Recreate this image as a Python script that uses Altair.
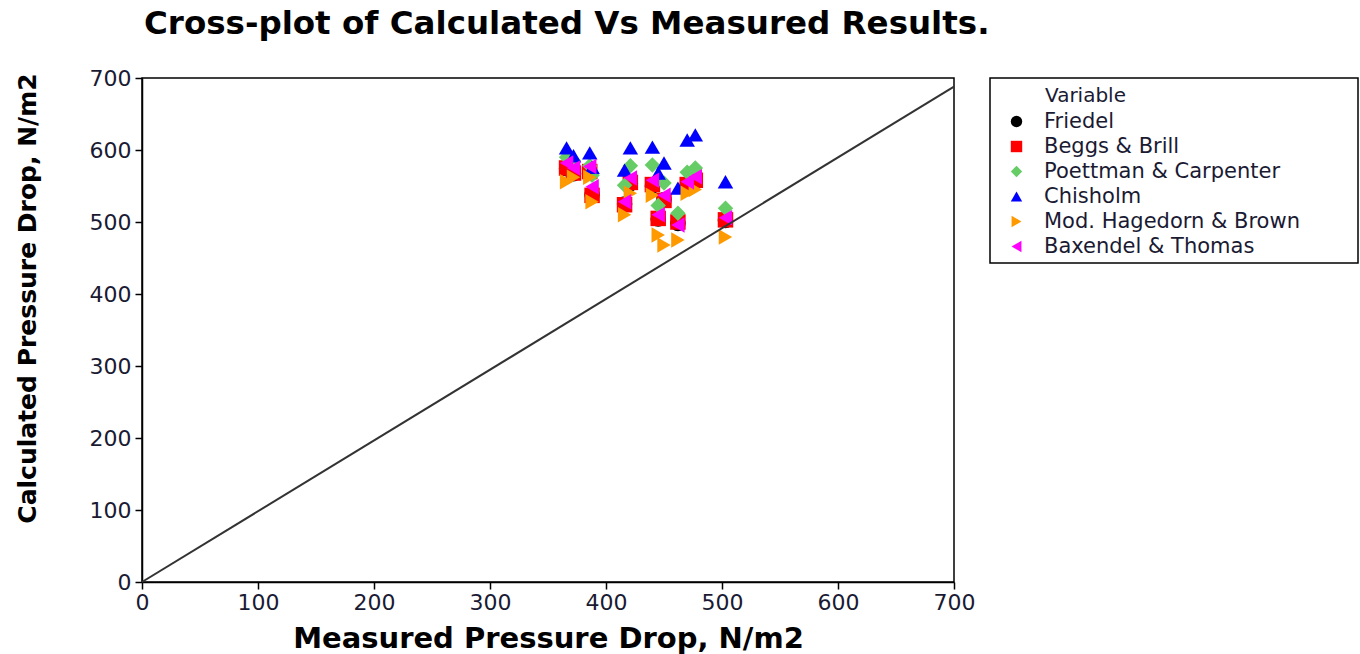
import altair as alt
import pandas as pd

# Measured pressure drop (N/m2) for each test point
measured = [366, 372, 386, 388, 416, 421, 440, 445, 450, 462, 470, 477, 503]

# Calculated pressure drop (N/m2) per correlation
friedel   = [574, 567, 568, 538, 525, 553, 550, 504, 531, 498, 550, 556, 502]
beggs     = [575, 568, 570, 537, 524, 555, 552, 505, 530, 500, 552, 558, 503]
poettman  = [590, 585, 578, 565, 551, 578, 579, 523, 554, 512, 569, 575, 519]
chisholm  = [603, 592, 596, 576, 572, 603, 604, 568, 582, 547, 614, 621, 556]
hagedorn  = [556, 562, 562, 528, 510, 540, 537, 482, 468, 475, 540, 545, 479]
baxendel  = [582, 575, 577, 549, 528, 561, 558, 510, 537, 496, 556, 563, 506]

series_names = ["Friedel", "Beggs & Brill", "Poettman & Carpenter", "Chisholm",
                "Mod. Hagedorn & Brown", "Baxendel & Thomas"]
series_values = [friedel, beggs, poettman, chisholm, hagedorn, baxendel]
series_colors = ["#000000", "#FF0000", "#66CC66", "#0000FF", "#FF9900", "#FF00FF"]
series_shapes = ["circle", "square", "diamond", "triangle-up", "triangle-right", "triangle-left"]

# y = x reference line
line_x = [0, 700]
line_y = [0, 688]

axis_ticks = [0, 100, 200, 300, 400, 500, 600, 700]

rows = []
for order, (name, vals) in enumerate(zip(series_names, series_values)):
    for m, c in zip(measured, vals):
        rows.append({"Measured": m, "Calculated": c, "Variable": name, "order": order})
df = pd.DataFrame(rows)
line_df = pd.DataFrame({"Measured": line_x, "Calculated": line_y})

FONT = "DejaVu Sans"
TXT = "#1a1a33"

xscale = alt.Scale(domain=[0, 700], nice=False, zero=True)
yscale = alt.Scale(domain=[0, 700], nice=False, zero=True)

xaxis = alt.Axis(values=axis_ticks, title="Measured Pressure Drop, N/m2", grid=False,
                 tickSize=7, tickColor="black", domainColor="black", tickWidth=1.5, domainWidth=1.5,
                 labelFont=FONT, labelFontSize=22, labelColor=TXT, labelPadding=3, labelFlush=False,
                 titleFont=FONT, titleFontSize=29, titleFontWeight="bold", titleColor="black",
                 titleY=56, titleBaseline="middle")
yaxis = alt.Axis(values=axis_ticks, title="Calculated Pressure Drop, N/m2", grid=False,
                 tickSize=7, tickColor="black", domainColor="black", tickWidth=1.5, domainWidth=1.5,
                 labelFont=FONT, labelFontSize=22, labelColor=TXT, labelPadding=4, labelFlush=False,
                 titleFont=FONT, titleFontSize=25, titleFontWeight="bold", titleColor="black",
                 titleX=-115, titleY=220, titleAlign="center", titleBaseline="middle", titleAngle=270)

# legend frame and heading (decoration placed in pixels)
legend_box = alt.Chart(pd.DataFrame({"k": [0]})).mark_rect(
    fill="white", stroke="black", strokeWidth=1.5).encode(
    x=alt.value(848), x2=alt.value(1216), y=alt.value(0), y2=alt.value(185))
legend_head = alt.Chart(pd.DataFrame({"k": [0]})).mark_text(
    text="Variable", font=FONT, fontSize=20, color=TXT, align="left", baseline="middle").encode(
    x=alt.value(903), y=alt.value(18))

points = alt.Chart(df).mark_point(filled=True, opacity=1, size=240).encode(
    x=alt.X("Measured:Q", scale=xscale, axis=xaxis),
    y=alt.Y("Calculated:Q", scale=yscale, axis=yaxis),
    color=alt.Color("Variable:N",
                    scale=alt.Scale(domain=series_names, range=series_colors),
                    legend=alt.Legend(orient="none", legendX=864, legendY=33, title=None,
                                      labelFont=FONT, labelFontSize=21, labelColor=TXT,
                                      labelOffset=17, symbolSize=130, symbolStrokeWidth=0,
                                      rowPadding=3, padding=0,
                                      labelLimit=600)),
    shape=alt.Shape("Variable:N", scale=alt.Scale(domain=series_names, range=series_shapes)),
    order=alt.Order("order:Q"),
)

line = alt.Chart(line_df).mark_line(color="#333333", strokeWidth=2).encode(
    x=alt.X("Measured:Q", scale=xscale),
    y=alt.Y("Calculated:Q", scale=yscale),
)

chart = alt.layer(legend_box, legend_head, points, line).properties(
    width=812, height=504,
    background="white",
    title=alt.TitleParams("Cross-plot of Calculated Vs Measured Results.", anchor="start",
                          frame="group",
                          font=FONT, fontSize=32.5, fontWeight="bold", color="black",
                          offset=27, dx=2),
    autosize=alt.AutoSizeParams(type="none"),
    padding={"left": 142, "top": 78, "right": 406, "bottom": 72},
).configure_view(stroke="black", strokeWidth=1.5)

chart.save("out.html", embed_options={"renderer": "svg", "actions": False})
